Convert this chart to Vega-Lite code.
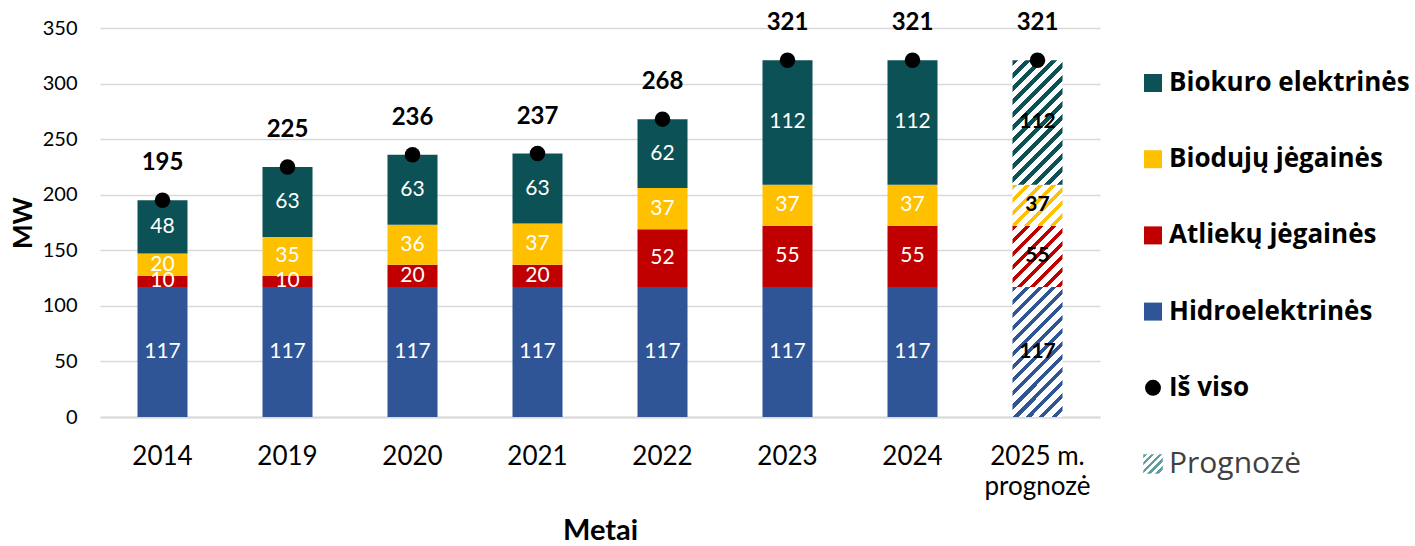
{
  "$schema": "https://vega.github.io/schema/vega-lite/v6.json",
  "padding": {"left": 10, "top": 11, "right": 0, "bottom": 0},
  "spacing": 43,
  "config": {"font": "Lato", "view": {"stroke": null}},
  "datasets": {
    "main": [
      {"year": "2014", "cat": "Hidroelektrinės", "ord": 1, "v": 117},
      {"year": "2014", "cat": "Atliekų jėgainės", "ord": 2, "v": 10},
      {"year": "2014", "cat": "Biodujų jėgainės", "ord": 3, "v": 20},
      {"year": "2014", "cat": "Biokuro elektrinės", "ord": 4, "v": 48},
      {"year": "2019", "cat": "Hidroelektrinės", "ord": 1, "v": 117},
      {"year": "2019", "cat": "Atliekų jėgainės", "ord": 2, "v": 10},
      {"year": "2019", "cat": "Biodujų jėgainės", "ord": 3, "v": 35},
      {"year": "2019", "cat": "Biokuro elektrinės", "ord": 4, "v": 63},
      {"year": "2020", "cat": "Hidroelektrinės", "ord": 1, "v": 117},
      {"year": "2020", "cat": "Atliekų jėgainės", "ord": 2, "v": 20},
      {"year": "2020", "cat": "Biodujų jėgainės", "ord": 3, "v": 36},
      {"year": "2020", "cat": "Biokuro elektrinės", "ord": 4, "v": 63},
      {"year": "2021", "cat": "Hidroelektrinės", "ord": 1, "v": 117},
      {"year": "2021", "cat": "Atliekų jėgainės", "ord": 2, "v": 20},
      {"year": "2021", "cat": "Biodujų jėgainės", "ord": 3, "v": 37},
      {"year": "2021", "cat": "Biokuro elektrinės", "ord": 4, "v": 63},
      {"year": "2022", "cat": "Hidroelektrinės", "ord": 1, "v": 117},
      {"year": "2022", "cat": "Atliekų jėgainės", "ord": 2, "v": 52},
      {"year": "2022", "cat": "Biodujų jėgainės", "ord": 3, "v": 37},
      {"year": "2022", "cat": "Biokuro elektrinės", "ord": 4, "v": 62},
      {"year": "2023", "cat": "Hidroelektrinės", "ord": 1, "v": 117},
      {"year": "2023", "cat": "Atliekų jėgainės", "ord": 2, "v": 55},
      {"year": "2023", "cat": "Biodujų jėgainės", "ord": 3, "v": 37},
      {"year": "2023", "cat": "Biokuro elektrinės", "ord": 4, "v": 112},
      {"year": "2024", "cat": "Hidroelektrinės", "ord": 1, "v": 117},
      {"year": "2024", "cat": "Atliekų jėgainės", "ord": 2, "v": 55},
      {"year": "2024", "cat": "Biodujų jėgainės", "ord": 3, "v": 37},
      {"year": "2024", "cat": "Biokuro elektrinės", "ord": 4, "v": 112},
      {"year": "2025 m. prognozė", "cat": "Hidroelektrinės", "ord": 1, "v": 117},
      {"year": "2025 m. prognozė", "cat": "Atliekų jėgainės", "ord": 2, "v": 55},
      {"year": "2025 m. prognozė", "cat": "Biodujų jėgainės", "ord": 3, "v": 37},
      {"year": "2025 m. prognozė", "cat": "Biokuro elektrinės", "ord": 4, "v": 112}
    ],
    "leg": [
      {"item": "Biokuro elektrinės", "kind": "cat"},
      {"item": "Biodujų jėgainės", "kind": "cat"},
      {"item": "Atliekų jėgainės", "kind": "cat"},
      {"item": "Hidroelektrinės", "kind": "cat"},
      {"item": "Iš viso", "kind": "tot"},
      {"item": "Prognozė", "kind": "fc"}
    ]
  },
  "hconcat": [
    {
      "width": 1000,
      "height": 389,
      "data": {"name": "main"},
      "encoding": {
        "x": {
          "field": "year", "type": "nominal", "sort": null, "title": "Metai",
          "scale": {"paddingInner": 0.6, "paddingOuter": 0.3},
          "axis": {
            "labelAngle": 0, "labelFontSize": 26, "labelPadding": 26, "labelColor": "#000000",
            "labelLineHeight": 30,
            "labelExpr": "datum.value === '2025 m. prognozė' ? ['2025 m.', 'prognozė'] : datum.label",
            "ticks": false, "tickSize": 0, "domainColor": "#D9D9D9", "domainWidth": 2,
            "titleFontSize": 29, "titleFontWeight": "bold", "titleColor": "#000000", "titlePadding": 17
          }
        }
      },
      "layer": [
        {
          "mark": {"type": "bar"},
          "encoding": {
            "y": {
              "field": "v", "type": "quantitative", "stack": "zero", "title": "MW",
              "scale": {"domain": [0, 350], "nice": false},
              "axis": {
                "values": [0, 50, 100, 150, 200, 250, 300, 350],
                "grid": true, "gridColor": "#D9D9D9", "gridWidth": 1.5,
                "domain": false, "ticks": false, "tickSize": 0,
                "labelFontSize": 20, "labelPadding": 23, "labelColor": "#000000",
                "titleFontSize": 26, "titleFontWeight": "bold", "titleColor": "#000000", "titlePadding": 6
              }
            },
            "order": {"field": "ord", "type": "quantitative"},
            "fill": {
              "field": "cat", "type": "nominal", "legend": null,
              "scale": {
                "domain": ["Hidroelektrinės", "Atliekų jėgainės", "Biodujų jėgainės", "Biokuro elektrinės"],
                "range": ["#2F5597", "#C00000", "#FFC000", "#0B5155"]
              },
              "condition": [
                {
                  "test": "datum.year === '2025 m. prognozė' && datum.cat === 'Hidroelektrinės'",
                  "value": {
                    "gradient": "linear", "x1": 0, "y1": 0, "x2": 0.4639, "y2": 1.2062,
                    "stops": [
                      {"offset": 0, "color": "#2F5597"}, {"offset": 0.0306, "color": "#2F5597"}, {"offset": 0.0306, "color": "#FFFFFF"}, {"offset": 0.0722, "color": "#FFFFFF"},
                      {"offset": 0.0722, "color": "#2F5597"}, {"offset": 0.1028, "color": "#2F5597"}, {"offset": 0.1028, "color": "#FFFFFF"}, {"offset": 0.1444, "color": "#FFFFFF"},
                      {"offset": 0.1444, "color": "#2F5597"}, {"offset": 0.1750, "color": "#2F5597"}, {"offset": 0.1750, "color": "#FFFFFF"}, {"offset": 0.2167, "color": "#FFFFFF"},
                      {"offset": 0.2167, "color": "#2F5597"}, {"offset": 0.2472, "color": "#2F5597"}, {"offset": 0.2472, "color": "#FFFFFF"}, {"offset": 0.2889, "color": "#FFFFFF"},
                      {"offset": 0.2889, "color": "#2F5597"}, {"offset": 0.3194, "color": "#2F5597"}, {"offset": 0.3194, "color": "#FFFFFF"}, {"offset": 0.3611, "color": "#FFFFFF"},
                      {"offset": 0.3611, "color": "#2F5597"}, {"offset": 0.3917, "color": "#2F5597"}, {"offset": 0.3917, "color": "#FFFFFF"}, {"offset": 0.4333, "color": "#FFFFFF"},
                      {"offset": 0.4333, "color": "#2F5597"}, {"offset": 0.4639, "color": "#2F5597"}, {"offset": 0.4639, "color": "#FFFFFF"}, {"offset": 0.5056, "color": "#FFFFFF"},
                      {"offset": 0.5056, "color": "#2F5597"}, {"offset": 0.5361, "color": "#2F5597"}, {"offset": 0.5361, "color": "#FFFFFF"}, {"offset": 0.5778, "color": "#FFFFFF"},
                      {"offset": 0.5778, "color": "#2F5597"}, {"offset": 0.6083, "color": "#2F5597"}, {"offset": 0.6083, "color": "#FFFFFF"}, {"offset": 0.6500, "color": "#FFFFFF"},
                      {"offset": 0.6500, "color": "#2F5597"}, {"offset": 0.6806, "color": "#2F5597"}, {"offset": 0.6806, "color": "#FFFFFF"}, {"offset": 0.7222, "color": "#FFFFFF"},
                      {"offset": 0.7222, "color": "#2F5597"}, {"offset": 0.7528, "color": "#2F5597"}, {"offset": 0.7528, "color": "#FFFFFF"}, {"offset": 0.7944, "color": "#FFFFFF"},
                      {"offset": 0.7944, "color": "#2F5597"}, {"offset": 0.8250, "color": "#2F5597"}, {"offset": 0.8250, "color": "#FFFFFF"}, {"offset": 0.8667, "color": "#FFFFFF"},
                      {"offset": 0.8667, "color": "#2F5597"}, {"offset": 0.8972, "color": "#2F5597"}, {"offset": 0.8972, "color": "#FFFFFF"}, {"offset": 0.9389, "color": "#FFFFFF"},
                      {"offset": 0.9389, "color": "#2F5597"}, {"offset": 0.9694, "color": "#2F5597"}, {"offset": 0.9694, "color": "#FFFFFF"}, {"offset": 1, "color": "#FFFFFF"}
                    ]
                  }
                },
                {
                  "test": "datum.year === '2025 m. prognozė' && datum.cat === 'Atliekų jėgainės'",
                  "value": {
                    "gradient": "linear", "x1": 0, "y1": 0, "x2": 0.8909, "y2": 1.0892,
                    "stops": [
                      {"offset": 0, "color": "#C00000"}, {"offset": 0.0495, "color": "#C00000"}, {"offset": 0.0495, "color": "#FFFFFF"}, {"offset": 0.1170, "color": "#FFFFFF"},
                      {"offset": 0.1170, "color": "#C00000"}, {"offset": 0.1665, "color": "#C00000"}, {"offset": 0.1665, "color": "#FFFFFF"}, {"offset": 0.2340, "color": "#FFFFFF"},
                      {"offset": 0.2340, "color": "#C00000"}, {"offset": 0.2835, "color": "#C00000"}, {"offset": 0.2835, "color": "#FFFFFF"}, {"offset": 0.3509, "color": "#FFFFFF"},
                      {"offset": 0.3509, "color": "#C00000"}, {"offset": 0.4004, "color": "#C00000"}, {"offset": 0.4004, "color": "#FFFFFF"}, {"offset": 0.4679, "color": "#FFFFFF"},
                      {"offset": 0.4679, "color": "#C00000"}, {"offset": 0.5174, "color": "#C00000"}, {"offset": 0.5174, "color": "#FFFFFF"}, {"offset": 0.5849, "color": "#FFFFFF"},
                      {"offset": 0.5849, "color": "#C00000"}, {"offset": 0.6344, "color": "#C00000"}, {"offset": 0.6344, "color": "#FFFFFF"}, {"offset": 0.7019, "color": "#FFFFFF"},
                      {"offset": 0.7019, "color": "#C00000"}, {"offset": 0.7514, "color": "#C00000"}, {"offset": 0.7514, "color": "#FFFFFF"}, {"offset": 0.8189, "color": "#FFFFFF"},
                      {"offset": 0.8189, "color": "#C00000"}, {"offset": 0.8684, "color": "#C00000"}, {"offset": 0.8684, "color": "#FFFFFF"}, {"offset": 0.9359, "color": "#FFFFFF"},
                      {"offset": 0.9359, "color": "#C00000"}, {"offset": 0.9854, "color": "#C00000"}, {"offset": 0.9854, "color": "#FFFFFF"}, {"offset": 1, "color": "#FFFFFF"}
                    ]
                  }
                },
                {
                  "test": "datum.year === '2025 m. prognozė' && datum.cat === 'Biodujų jėgainės'",
                  "value": {
                    "gradient": "linear", "x1": 0, "y1": 0, "x2": 1.0871, "y2": 0.8941,
                    "stops": [
                      {"offset": 0, "color": "#FFC000"}, {"offset": 0.0604, "color": "#FFC000"}, {"offset": 0.0604, "color": "#FFFFFF"}, {"offset": 0.1427, "color": "#FFFFFF"},
                      {"offset": 0.1427, "color": "#FFC000"}, {"offset": 0.2030, "color": "#FFC000"}, {"offset": 0.2030, "color": "#FFFFFF"}, {"offset": 0.2853, "color": "#FFFFFF"},
                      {"offset": 0.2853, "color": "#FFC000"}, {"offset": 0.3457, "color": "#FFC000"}, {"offset": 0.3457, "color": "#FFFFFF"}, {"offset": 0.4280, "color": "#FFFFFF"},
                      {"offset": 0.4280, "color": "#FFC000"}, {"offset": 0.4884, "color": "#FFC000"}, {"offset": 0.4884, "color": "#FFFFFF"}, {"offset": 0.5707, "color": "#FFFFFF"},
                      {"offset": 0.5707, "color": "#FFC000"}, {"offset": 0.6310, "color": "#FFC000"}, {"offset": 0.6310, "color": "#FFFFFF"}, {"offset": 0.7133, "color": "#FFFFFF"},
                      {"offset": 0.7133, "color": "#FFC000"}, {"offset": 0.7737, "color": "#FFC000"}, {"offset": 0.7737, "color": "#FFFFFF"}, {"offset": 0.8560, "color": "#FFFFFF"},
                      {"offset": 0.8560, "color": "#FFC000"}, {"offset": 0.9164, "color": "#FFC000"}, {"offset": 0.9164, "color": "#FFFFFF"}, {"offset": 0.9987, "color": "#FFFFFF"},
                      {"offset": 0.9987, "color": "#FFC000"}, {"offset": 1, "color": "#FFC000"}
                    ]
                  }
                },
                {
                  "test": "datum.year === '2025 m. prognozė' && datum.cat === 'Biokuro elektrinės'",
                  "value": {
                    "gradient": "linear", "x1": 0, "y1": 0, "x2": 0.4848, "y2": 1.2070,
                    "stops": [
                      {"offset": 0, "color": "#0B5155"}, {"offset": 0.0315, "color": "#0B5155"}, {"offset": 0.0315, "color": "#FFFFFF"}, {"offset": 0.0745, "color": "#FFFFFF"},
                      {"offset": 0.0745, "color": "#0B5155"}, {"offset": 0.1060, "color": "#0B5155"}, {"offset": 0.1060, "color": "#FFFFFF"}, {"offset": 0.1490, "color": "#FFFFFF"},
                      {"offset": 0.1490, "color": "#0B5155"}, {"offset": 0.1805, "color": "#0B5155"}, {"offset": 0.1805, "color": "#FFFFFF"}, {"offset": 0.2235, "color": "#FFFFFF"},
                      {"offset": 0.2235, "color": "#0B5155"}, {"offset": 0.2551, "color": "#0B5155"}, {"offset": 0.2551, "color": "#FFFFFF"}, {"offset": 0.2980, "color": "#FFFFFF"},
                      {"offset": 0.2980, "color": "#0B5155"}, {"offset": 0.3296, "color": "#0B5155"}, {"offset": 0.3296, "color": "#FFFFFF"}, {"offset": 0.3725, "color": "#FFFFFF"},
                      {"offset": 0.3725, "color": "#0B5155"}, {"offset": 0.4041, "color": "#0B5155"}, {"offset": 0.4041, "color": "#FFFFFF"}, {"offset": 0.4471, "color": "#FFFFFF"},
                      {"offset": 0.4471, "color": "#0B5155"}, {"offset": 0.4786, "color": "#0B5155"}, {"offset": 0.4786, "color": "#FFFFFF"}, {"offset": 0.5216, "color": "#FFFFFF"},
                      {"offset": 0.5216, "color": "#0B5155"}, {"offset": 0.5531, "color": "#0B5155"}, {"offset": 0.5531, "color": "#FFFFFF"}, {"offset": 0.5961, "color": "#FFFFFF"},
                      {"offset": 0.5961, "color": "#0B5155"}, {"offset": 0.6276, "color": "#0B5155"}, {"offset": 0.6276, "color": "#FFFFFF"}, {"offset": 0.6706, "color": "#FFFFFF"},
                      {"offset": 0.6706, "color": "#0B5155"}, {"offset": 0.7021, "color": "#0B5155"}, {"offset": 0.7021, "color": "#FFFFFF"}, {"offset": 0.7451, "color": "#FFFFFF"},
                      {"offset": 0.7451, "color": "#0B5155"}, {"offset": 0.7766, "color": "#0B5155"}, {"offset": 0.7766, "color": "#FFFFFF"}, {"offset": 0.8196, "color": "#FFFFFF"},
                      {"offset": 0.8196, "color": "#0B5155"}, {"offset": 0.8511, "color": "#0B5155"}, {"offset": 0.8511, "color": "#FFFFFF"}, {"offset": 0.8941, "color": "#FFFFFF"},
                      {"offset": 0.8941, "color": "#0B5155"}, {"offset": 0.9256, "color": "#0B5155"}, {"offset": 0.9256, "color": "#FFFFFF"}, {"offset": 0.9686, "color": "#FFFFFF"},
                      {"offset": 0.9686, "color": "#0B5155"}, {"offset": 1, "color": "#0B5155"}
                    ]
                  }
                }
              ]
            }
          }
        },
        {
          "transform": [{"filter": "datum.year !== '2025 m. prognozė'"}],
          "mark": {"type": "text", "fill": "#FFFFFF", "fontSize": 21, "baseline": "middle"},
          "encoding": {
            "y": {"field": "v", "type": "quantitative", "stack": "zero", "bandPosition": 0.5, "title": "MW"},
            "detail": {"field": "cat", "type": "nominal"},
            "order": {"field": "ord", "type": "quantitative"},
            "text": {"field": "v", "type": "quantitative"}
          }
        },
        {
          "transform": [{"filter": "datum.year === '2025 m. prognozė'"}],
          "mark": {"type": "text", "fill": "#000000", "fontSize": 21, "fontWeight": "bold", "baseline": "middle"},
          "encoding": {
            "y": {"field": "v", "type": "quantitative", "stack": "zero", "bandPosition": 0.5, "title": "MW"},
            "detail": {"field": "cat", "type": "nominal"},
            "order": {"field": "ord", "type": "quantitative"},
            "text": {"field": "v", "type": "quantitative"}
          }
        },
        {
          "mark": {"type": "point", "shape": "circle", "filled": true, "fill": "#000000", "size": 240, "opacity": 1},
          "encoding": {
            "y": {"aggregate": "sum", "field": "v", "type": "quantitative", "title": "MW"}
          }
        },
        {
          "mark": {"type": "text", "fontSize": 24, "fontWeight": "bold", "fill": "#000000", "baseline": "middle", "dy": -37},
          "encoding": {
            "y": {"aggregate": "sum", "field": "v", "type": "quantitative", "title": "MW"},
            "text": {"aggregate": "sum", "field": "v", "type": "quantitative"}
          }
        }
      ]
    },
    {
      "width": 18,
      "height": 389,
      "data": {"name": "leg"},
      "encoding": {
        "y": {
          "field": "item", "type": "nominal", "axis": null,
          "scale": {
            "type": "point", "padding": 0,
            "domain": ["Biokuro elektrinės", "Biodujų jėgainės", "Atliekų jėgainės", "Hidroelektrinės", "Iš viso", "Prognozė"],
            "range": [55, 436]
          }
        }
      },
      "layer": [
        {
          "transform": [{"filter": "datum.kind === 'cat'"}],
          "mark": {"type": "point", "shape": "square", "filled": true, "size": 324, "opacity": 1},
          "encoding": {
            "fill": {
              "field": "item", "type": "nominal", "legend": null,
              "scale": {
                "domain": ["Hidroelektrinės", "Atliekų jėgainės", "Biodujų jėgainės", "Biokuro elektrinės"],
                "range": ["#2F5597", "#C00000", "#FFC000", "#0B5155"]
              }
            }
          }
        },
        {
          "transform": [{"filter": "datum.kind === 'tot'"}],
          "mark": {"type": "point", "shape": "circle", "filled": true, "fill": "#000000", "size": 254, "opacity": 1},
          "encoding": {}
        },
        {
          "transform": [{"filter": "datum.kind === 'fc'"}],
          "mark": {
            "type": "point", "shape": "square", "filled": true, "size": 380, "opacity": 1,
            "fill": {
              "gradient": "linear", "x1": 0, "y1": 0, "x2": 1, "y2": 1,
              "stops": [
                {"offset": 0, "color": "#5E9EA0"}, {"offset": 0.09, "color": "#5E9EA0"}, {"offset": 0.09, "color": "#FFFFFF"}, {"offset": 0.2, "color": "#FFFFFF"},
                {"offset": 0.2, "color": "#5E9EA0"}, {"offset": 0.29, "color": "#5E9EA0"}, {"offset": 0.29, "color": "#FFFFFF"}, {"offset": 0.4, "color": "#FFFFFF"},
                {"offset": 0.4, "color": "#5E9EA0"}, {"offset": 0.49, "color": "#5E9EA0"}, {"offset": 0.49, "color": "#FFFFFF"}, {"offset": 0.6, "color": "#FFFFFF"},
                {"offset": 0.6, "color": "#5E9EA0"}, {"offset": 0.69, "color": "#5E9EA0"}, {"offset": 0.69, "color": "#FFFFFF"}, {"offset": 0.8, "color": "#FFFFFF"},
                {"offset": 0.8, "color": "#5E9EA0"}, {"offset": 0.89, "color": "#5E9EA0"}, {"offset": 0.89, "color": "#FFFFFF"}, {"offset": 1, "color": "#FFFFFF"}
              ]
            }
          },
          "encoding": {}
        },
        {
          "transform": [{"filter": "datum.kind !== 'fc'"}],
          "mark": {"type": "text", "align": "left", "dx": 16, "font": "Open Sans", "fontSize": 26, "fontWeight": "bold", "fill": "#000000", "baseline": "middle"},
          "encoding": {"text": {"field": "item", "type": "nominal"}}
        },
        {
          "transform": [{"filter": "datum.kind === 'fc'"}],
          "mark": {"type": "text", "align": "left", "dx": 16, "font": "Open Sans", "fontSize": 30, "fill": "#404040", "baseline": "middle"},
          "encoding": {"text": {"field": "item", "type": "nominal"}}
        }
      ]
    }
  ]
}
